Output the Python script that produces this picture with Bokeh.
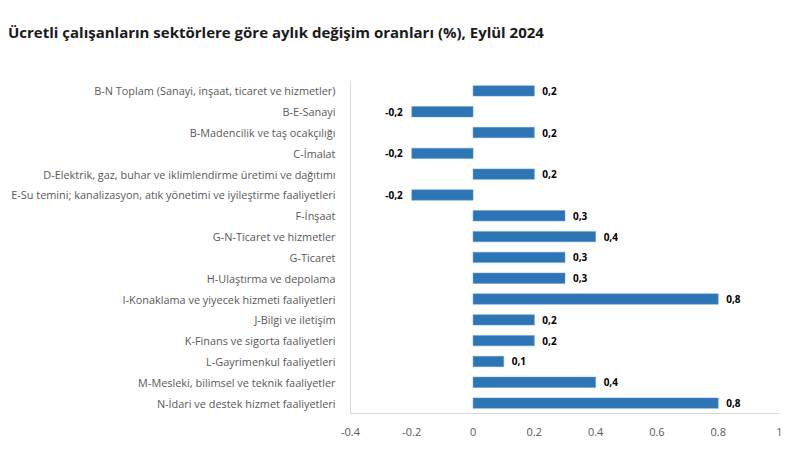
from bokeh.plotting import figure
from bokeh.models import ColumnDataSource, FixedTicker, LabelSet, Range1d, FactorRange, Div
from bokeh.layouts import column
from bokeh.core.properties import value
from bokeh.embed import file_html
from bokeh.resources import INLINE

title = "Ücretli çalışanların sektörlere göre aylık değişim oranları (%), Eylül 2024"
categories = [
    "B-N Toplam (Sanayi, inşaat, ticaret ve hizmetler)",
    "B-E-Sanayi",
    "B-Madencilik ve taş ocakçılığı",
    "C-İmalat",
    "D-Elektrik, gaz, buhar ve iklimlendirme üretimi ve dağıtımı",
    "E-Su temini; kanalizasyon, atık yönetimi ve iyileştirme faaliyetleri",
    "F-İnşaat",
    "G-N-Ticaret ve hizmetler",
    "G-Ticaret",
    "H-Ulaştırma ve depolama",
    "I-Konaklama ve yiyecek hizmeti faaliyetleri",
    "J-Bilgi ve iletişim",
    "K-Finans ve sigorta faaliyetleri",
    "L-Gayrimenkul faaliyetleri",
    "M-Mesleki, bilimsel ve teknik faaliyetler",
    "N-İdari ve destek hizmet faaliyetleri",
]
values = [0.2, -0.2, 0.2, -0.2, 0.2, -0.2, 0.3, 0.4, 0.3, 0.3, 0.8, 0.2, 0.2, 0.1, 0.4, 0.8]
x_ticks = [-0.4, -0.2, 0, 0.2, 0.4, 0.6, 0.8, 1.0]
x_tick_labels = ["-0.4", "-0.2", "0", "0.2", "0.4", "0.6", "0.8", "1"]

FONT = "Open Sans"

labels = [f"{v:.1f}".replace(".", ",") for v in values]
pos = [v >= 0 for v in values]
src_pos = ColumnDataSource(dict(
    cat=[c for c, p in zip(categories, pos) if p],
    val=[v for v, p in zip(values, pos) if p],
    lab=[l for l, p in zip(labels, pos) if p],
))
src_neg = ColumnDataSource(dict(
    cat=[c for c, p in zip(categories, pos) if not p],
    val=[v for v, p in zip(values, pos) if not p],
    lab=[l for l, p in zip(labels, pos) if not p],
))

header = Div(
    text=title, width=779, height=20, margin=(22, 0, 0, 8),
    styles={"font-family": FONT, "font-size": "15px", "font-weight": "bold",
            "color": "#1a1a1a", "line-height": "20px", "white-space": "nowrap"},
)

p = figure(
    frame_width=429, frame_height=333,
    y_range=FactorRange(*reversed(categories)),
    x_range=Range1d(x_ticks[0], x_ticks[-1]),
    output_backend="svg", toolbar_location=None,
    min_border_left=350, min_border_right=8, min_border_bottom=45, min_border_top=38,
    margin=(0, 0, 0, 0),
)

src_all = ColumnDataSource(dict(cat=categories, val=values))
p.hbar(y="cat", right="val", left=0, height=0.5, source=src_all,
       fill_color="#2E75B6", line_color="#5B9BD5", line_width=0.5)

for src, off, align in ((src_pos, 8, "left"), (src_neg, -9, "right")):
    p.add_layout(LabelSet(x="val", y="cat", text="lab", source=src, x_offset=off,
                          text_font=value(FONT), text_font_size=value("10px"),
                          text_font_style=value("bold"), text_color=value("#000000"),
                          text_baseline=value("middle"), text_align=value(align)))

p.xgrid.grid_line_color = None
p.ygrid.grid_line_color = None
p.outline_line_color = None

p.xaxis.ticker = FixedTicker(ticks=x_ticks)
p.xaxis.major_label_overrides = {t: l for t, l in zip(x_ticks, x_tick_labels)}
for ax in (p.xaxis, p.yaxis):
    ax.axis_line_color = "#d9d9d9"
    ax.axis_line_width = 1
    ax.major_tick_line_color = None
    ax.minor_tick_line_color = None
    ax.major_label_text_font = FONT
    ax.major_label_text_color = "#595959"
p.xaxis.major_label_text_font_size = "11px"
p.yaxis.major_label_text_font_size = "10.9px"
p.yaxis.major_label_standoff = 9
p.xaxis.major_label_standoff = 8

layout = column(header, p, spacing=0)
open("out.html", "w").write(file_html(layout, INLINE))
